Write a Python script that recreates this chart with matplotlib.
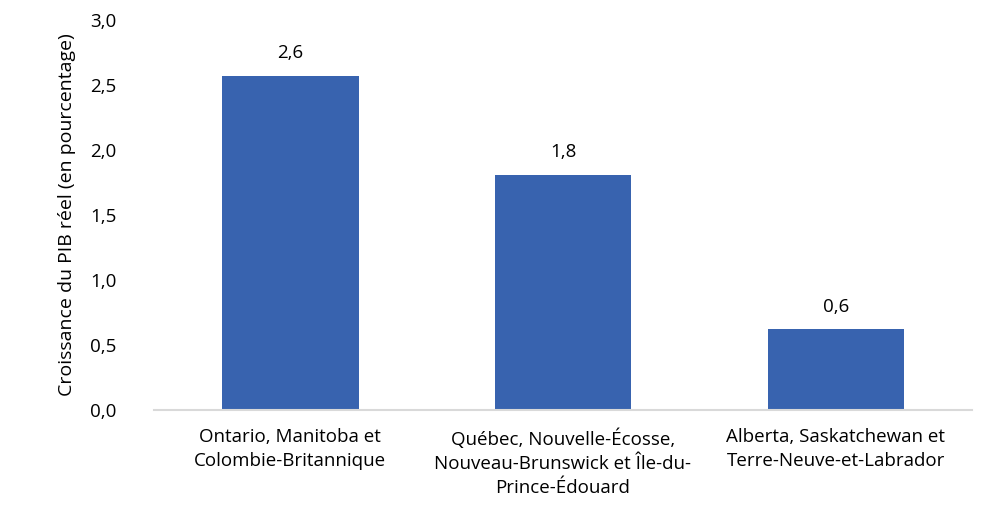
import matplotlib
matplotlib.use("Agg")
import matplotlib.pyplot as plt
from matplotlib.ticker import FuncFormatter

categories = ["Ontario, Manitoba et\nColombie-Britannique",
              "Québec, Nouvelle-Écosse,\nNouveau-Brunswick et Île-du-\nPrince-Édouard",
              "Alberta, Saskatchewan et\nTerre-Neuve-et-Labrador"]
values = [2.57, 1.81, 0.62]
labels = ["2,6", "1,8", "0,6"]
yticks = [0.0, 0.5, 1.0, 1.5, 2.0, 2.5, 3.0]

plt.rcParams['font.family'] = ['Open Sans', 'DejaVu Sans']
fig = plt.figure(figsize=(10.01, 5.14), dpi=100)
ax = fig.add_axes([154/1001, 1-410/514, (972-154)/1001, 390/514])
x = list(range(len(categories)))
bars = ax.bar(x, values, width=0.5, color="#3863AF")
for xi, v, l in zip(x, values, labels):
    ax.annotate(l, (xi, v), xytext=(0, 10), textcoords="offset points",
                ha="center", va="bottom", fontsize=13.5, color="#000000")
ax.set_xlim(-0.5, 2.5)
ax.set_ylim(0, 3.0)
ax.set_yticks(yticks)
ax.yaxis.set_major_formatter(FuncFormatter(lambda v, p: f"{v:.1f}".replace(".", ",")))
ax.set_xticks(x)
ax.set_xticklabels(categories, fontsize=13.5, linespacing=1.45)
ax.tick_params(axis="y", length=0, pad=27, labelsize=13.5)
ax.tick_params(axis="x", length=0, pad=13)
for s in ["top", "right", "left"]:
    ax.spines[s].set_visible(False)
ax.spines["bottom"].set_color("#D9D9D9")
ax.spines["bottom"].set_linewidth(1.5)
ax.set_ylabel("Croissance du PIB réel (en pourcentage)", fontsize=14, labelpad=10)
fig.savefig("out.png", dpi=100)
